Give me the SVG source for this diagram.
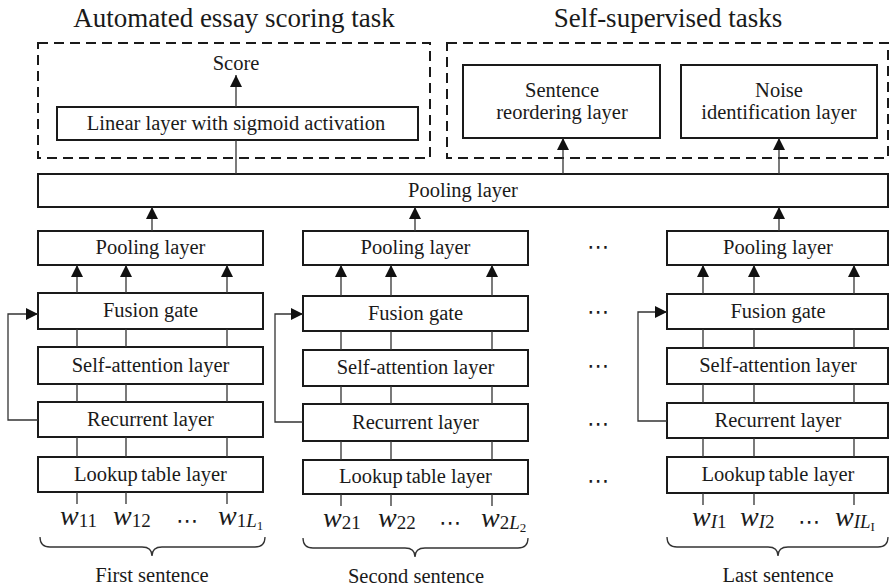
<svg xmlns="http://www.w3.org/2000/svg" width="891" height="587" viewBox="0 0 891 587">
<style>
.box{fill:#fff;stroke:#1a1a1a;stroke-width:2}
.dash{fill:none;stroke:#1a1a1a;stroke-width:2;stroke-dasharray:10 6}
.t{font-family:"Liberation Serif","Times New Roman",serif;font-size:20.5px;fill:#1a1a1a;text-anchor:middle}
.title{font-family:"Liberation Serif","Times New Roman",serif;font-size:27px;fill:#1a1a1a;text-anchor:middle}
.w{font-family:"Liberation Serif","Times New Roman",serif;font-size:28px;font-style:italic;fill:#1a1a1a}
.s{font-size:19px;font-style:normal}
.si{font-size:19px;font-style:italic}
.ss{font-size:13px;font-style:normal}
.dots{font-family:"DejaVu Sans",sans-serif;font-size:22px;fill:#1a1a1a;text-anchor:middle}
.c{fill:none;stroke:#333;stroke-width:1.3}
.a{fill:none;stroke:#333;stroke-width:1.3;marker-end:url(#arr)}
.br{fill:none;stroke:#333;stroke-width:1.3}
</style>
<defs>
<marker id="arr" viewBox="0 0 10 10" refX="10" refY="5" markerWidth="12" markerHeight="12" markerUnits="userSpaceOnUse" orient="auto">
<path d="M0,0 L10,5 L0,10 z" fill="#111"/>
</marker>
</defs>
<rect width="891" height="587" fill="#fff"/>

<g id="titles">
<text class="title" x="234" y="27">Automated essay scoring task</text>
<text class="title" x="668" y="27">Self-supervised tasks</text>
</g>

<g id="aes-group"><rect class="dash" x="38" y="43" width="392" height="115"/></g>
<g id="ssl-group"><rect class="dash" x="447" y="43" width="441" height="115"/></g>

<g id="score"><text class="t" x="236" y="70">Score</text></g>
<g id="linear"><rect class="box" x="57" y="107" width="361" height="33"/><text class="t" x="236" y="130">Linear layer with sigmoid activation</text></g>
<g id="reorder"><rect class="box" x="463" y="65" width="197" height="73"/><text class="t" x="562" y="97">Sentence</text><text class="t" x="562" y="119">reordering layer</text></g>
<g id="noise"><rect class="box" x="681" y="65" width="196" height="73"/><text class="t" x="779" y="97">Noise</text><text class="t" x="779" y="119">identification layer</text></g>
<g id="essay-pool"><rect class="box" x="38" y="174" width="850" height="33"/><text class="t" x="463" y="197">Pooling layer</text></g>

<g id="c1-pool"><rect class="box" x="38" y="231" width="225" height="34"/><text class="t" x="150.5" y="254">Pooling layer</text></g>
<g id="c1-fusion"><rect class="box" x="38" y="293" width="225" height="36"/><text class="t" x="150.5" y="317">Fusion gate</text></g>
<g id="c1-self"><rect class="box" x="38" y="347" width="225" height="37"/><text class="t" x="150.5" y="372">Self-attention layer</text></g>
<g id="c1-rec"><rect class="box" x="38" y="402" width="225" height="35"/><text class="t" x="150.5" y="426">Recurrent layer</text></g>
<g id="c1-look"><rect class="box" x="38" y="457" width="225" height="35"/><text class="t" x="150.5" y="481">Lookup <tspan dx="-2">table layer</tspan></text></g>

<g id="c2-pool"><rect class="box" x="303" y="231" width="225" height="34"/><text class="t" x="415.5" y="254">Pooling layer</text></g>
<g id="c2-fusion"><rect class="box" x="303" y="296" width="225" height="35"/><text class="t" x="415.5" y="320">Fusion gate</text></g>
<g id="c2-self"><rect class="box" x="303" y="350" width="225" height="36"/><text class="t" x="415.5" y="374">Self-attention layer</text></g>
<g id="c2-rec"><rect class="box" x="303" y="404" width="225" height="37"/><text class="t" x="415.5" y="429">Recurrent layer</text></g>
<g id="c2-look"><rect class="box" x="303" y="460" width="225" height="34"/><text class="t" x="415.5" y="483">Lookup <tspan dx="-2">table layer</tspan></text></g>

<g id="c3-pool"><rect class="box" x="667" y="231" width="221" height="34"/><text class="t" x="778" y="254">Pooling layer</text></g>
<g id="c3-fusion"><rect class="box" x="667" y="294" width="221" height="35"/><text class="t" x="778" y="318">Fusion gate</text></g>
<g id="c3-self"><rect class="box" x="667" y="348" width="221" height="36"/><text class="t" x="778" y="372">Self-attention layer</text></g>
<g id="c3-rec"><rect class="box" x="667" y="403" width="221" height="35"/><text class="t" x="778" y="427">Recurrent layer</text></g>
<g id="c3-look"><rect class="box" x="667" y="457" width="221" height="36"/><text class="t" x="778" y="481">Lookup <tspan dx="-2">table layer</tspan></text></g>

<g id="mid-dots">
<text class="dots" x="598" y="254">⋯</text>
<text class="dots" x="598" y="319">⋯</text>
<text class="dots" x="598" y="373">⋯</text>
<text class="dots" x="598" y="431">⋯</text>
<text class="dots" x="598" y="488">⋯</text>
</g>

<g id="words">
<text class="w" x="60" y="525">w<tspan class="s" dy="2">11</tspan></text>
<text class="w" x="113" y="525">w<tspan class="s" dy="2">12</tspan></text>
<text class="dots" x="187" y="528">⋯</text>
<text class="w" x="218" y="525">w<tspan class="s" dy="2">1</tspan><tspan class="si">L</tspan><tspan class="ss" dy="3">1</tspan></text>

<text class="w" x="323" y="527">w<tspan class="s" dy="2">21</tspan></text>
<text class="w" x="378" y="527">w<tspan class="s" dy="2">22</tspan></text>
<text class="dots" x="450" y="530">⋯</text>
<text class="w" x="481" y="527">w<tspan class="s" dy="2">2</tspan><tspan class="si">L</tspan><tspan class="ss" dy="3">2</tspan></text>

<text class="w" x="692" y="526">w<tspan class="si" dy="2">I</tspan><tspan class="s">1</tspan></text>
<text class="w" x="740" y="526">w<tspan class="si" dy="2">I</tspan><tspan class="s">2</tspan></text>
<text class="dots" x="809" y="529">⋯</text>
<text class="w" x="835" y="526">w<tspan class="si" dy="2">IL</tspan><tspan class="ss" dy="3">I</tspan></text>
</g>

<g id="braces">
<path class="br" d="M40,537 q0,10 10,10 L142,547 q10,0 10,9 q0,-9 10,-9 L255,547 q10,0 10,-10"/>
<path class="br" d="M303,538 q0,10 10,10 L405,548 q10,0 10,9 q0,-9 10,-9 L518,548 q10,0 10,-10"/>
<path class="br" d="M667,537 q0,10 10,10 L768,547 q10,0 10,9 q0,-9 10,-9 L878,547 q10,0 10,-10"/>
</g>
<g id="sentence-labels">
<text class="t" x="152" y="582">First sentence</text>
<text class="t" x="416" y="583">Second sentence</text>
<text class="t" x="778" y="582">Last sentence</text>
</g>

<g id="connectors">
<line class="a" x1="236" y1="107" x2="236" y2="75"/>
<line class="c" x1="236" y1="174" x2="236" y2="140"/>
<line class="a" x1="563" y1="174" x2="563" y2="138"/>
<line class="a" x1="779" y1="174" x2="779" y2="138"/>
<line class="a" x1="152" y1="231" x2="152" y2="207"/>
<line class="a" x1="415" y1="231" x2="415" y2="207"/>
<line class="a" x1="779" y1="231" x2="779" y2="207"/>

<line class="a" x1="77" y1="293" x2="77" y2="265"/>
<line class="a" x1="126" y1="293" x2="126" y2="265"/>
<line class="a" x1="227" y1="293" x2="227" y2="265"/>
<path class="c" d="M77,329V347M126,329V347M227,329V347M77,384V402M126,384V402M227,384V402M77,437V457M126,437V457M227,437V457M77,492V504M126,492V504M227,492V504"/>
<polyline class="a" points="38,420 8,420 8,314 38,314"/>

<line class="a" x1="341" y1="296" x2="341" y2="265"/>
<line class="a" x1="391" y1="296" x2="391" y2="265"/>
<line class="a" x1="492" y1="296" x2="492" y2="265"/>
<path class="c" d="M341,331V350M391,331V350M492,331V350M341,386V404M391,386V404M492,386V404M341,441V460M391,441V460M492,441V460M341,494V506M391,494V506M492,494V506"/>
<polyline class="a" points="303,422 275,422 275,314 303,314"/>

<line class="a" x1="703" y1="294" x2="703" y2="265"/>
<line class="a" x1="754" y1="294" x2="754" y2="265"/>
<line class="a" x1="854" y1="294" x2="854" y2="265"/>
<path class="c" d="M703,329V348M754,329V348M854,329V348M703,384V403M754,384V403M854,384V403M703,438V457M754,438V457M854,438V457M703,493V505M754,493V505M854,493V505"/>
<polyline class="a" points="667,421 638,421 638,312 667,312"/>
</g>
</svg>
